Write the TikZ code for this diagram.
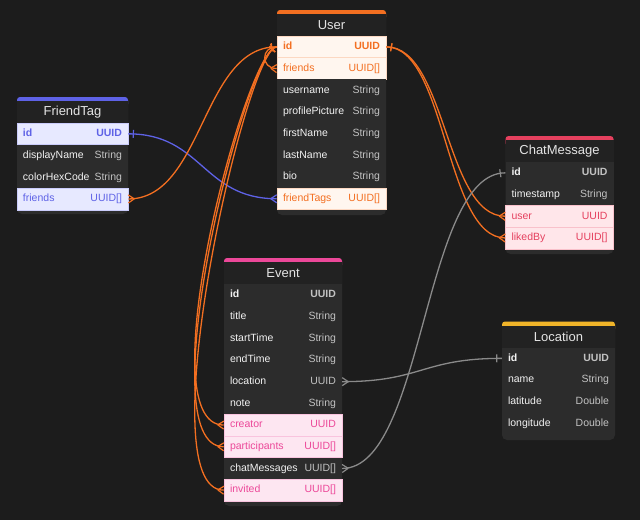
\documentclass[tikz,border=0pt]{standalone}
\usepackage{fontspec}
\setmainfont{Liberation Sans}
\usepackage{tikz}
\usetikzlibrary{decorations.markings}

\definecolor{canvas}{HTML}{1C1C1C}
\definecolor{headbg}{HTML}{222222}
\definecolor{rowbg}{HTML}{2C2C2C}
\definecolor{namefg}{HTML}{F2F2F2}
\definecolor{typefg}{HTML}{C2C2C2}
\definecolor{titlefg}{HTML}{E4E4E4}
\definecolor{userc}{HTML}{F36F21}
\definecolor{userbg}{HTML}{FFF6EF}
\definecolor{tagc}{HTML}{5E62E6}
\definecolor{tagbg}{HTML}{E7E9FF}
\definecolor{chatc}{HTML}{E5405E}
\definecolor{chatbg}{HTML}{FFE6EA}
\definecolor{eventc}{HTML}{EC4899}
\definecolor{eventbg}{HTML}{FDE6F1}
\definecolor{locc}{HTML}{F0B429}
\definecolor{linkgray}{HTML}{8A8A8A}

\newcommand{\ftype}[1]{\textcolor{typefg}{#1}}

\begin{document}
\begin{tikzpicture}[x=1pt, y=-1pt,
    title/.style={fill=headbg, text=titlefg, font=\fontsize{13}{15}\selectfont,
        minimum height=22pt, inner xsep=6pt, inner ysep=0pt, align=center},
    row/.style={fill=rowbg, text=namefg, font=\fontsize{10.5}{12}\selectfont,
        minimum height=21.7pt, inner xsep=6pt, inner ysep=0pt, align=left,
        text height=8pt, text depth=2.5pt},
    keyrow/.style={row, font=\fontsize{10.5}{12}\selectfont\bfseries},
    hlrow/.style={row, fill=#1bg, text=#1c, draw=#1c!22!#1bg, line width=0.6pt},
    rel/.style={draw=#1, line width=1.3pt},
    onemark/.style={postaction={decorate, decoration={markings,
        mark=at position 5pt with {\draw[#1, line width=1.2pt] (0pt,-4pt) -- (0pt,4pt);}}}},
    manymark/.style={postaction={decorate, decoration={markings,
        mark=at position -1pt with {\draw[#1, line width=1.2pt] (-5pt,0pt) -- (1pt,4pt) (-5pt,0pt) -- (1pt,-4pt);}}}}]

    \useasboundingbox (0,0) rectangle (640,520);
    \fill[canvas] (0,0) rectangle (640,520);

    % User
    \fill[rowbg, rounded corners=5pt] (277,10) rectangle (386,215);
    \fill[userc, rounded corners=3pt] (277,10) rectangle (386,20);
    \begin{scope}[every node/.append style={text width=97pt}]
        \node[title] (User) at (331.5,25) {User};
        \node[hlrow=user, font=\fontsize{10.5}{12}\selectfont\bfseries] (User-id) at (331.5,46.85) {id\hfill UUID};
        \node[hlrow=user] (User-friends) at (331.5,68.55) {friends\hfill UUID[]};
        \node[row] (User-username) at (331.5,90.25) {username\hfill\ftype{String}};
        \node[row] (User-profilePicture) at (331.5,111.95) {profilePicture\hfill\ftype{String}};
        \node[row] (User-firstName) at (331.5,133.65) {firstName\hfill\ftype{String}};
        \node[row] (User-lastName) at (331.5,155.35) {lastName\hfill\ftype{String}};
        \node[row] (User-bio) at (331.5,177.05) {bio\hfill\ftype{String}};
        \node[hlrow=user] (User-friendTags) at (331.5,198.75) {friendTags\hfill UUID[]};
    \end{scope}

    % FriendTag
    \fill[rowbg, rounded corners=5pt] (17,97) rectangle (128,214);
    \fill[tagc, rounded corners=3pt] (17,97) rectangle (128,107);
    \begin{scope}[every node/.append style={text width=99pt}]
        \node[title] (FriendTag) at (72.5,112) {FriendTag};
        \node[hlrow=tag, font=\fontsize{10.5}{12}\selectfont\bfseries] (FriendTag-id) at (72.5,133.85) {id\hfill UUID};
        \node[row] (FriendTag-displayName) at (72.5,155.55) {displayName\hfill\ftype{String}};
        \node[row] (FriendTag-colorHexCode) at (72.5,177.25) {colorHexCode\hfill\ftype{String}};
        \node[hlrow=tag] (FriendTag-friends) at (72.5,198.95) {friends\hfill UUID[]};
    \end{scope}

    % ChatMessage
    \fill[rowbg, rounded corners=5pt] (505.5,136) rectangle (613.5,254);
    \fill[chatc, rounded corners=3pt] (505.5,136) rectangle (613.5,146);
    \begin{scope}[every node/.append style={text width=96pt}]
        \node[title] (ChatMessage) at (559.5,151) {ChatMessage};
        \node[keyrow] (ChatMessage-id) at (559.5,172.85) {id\hfill\ftype{UUID}};
        \node[row] (ChatMessage-timestamp) at (559.5,194.55) {timestamp\hfill\ftype{String}};
        \node[hlrow=chat] (ChatMessage-user) at (559.5,216.25) {user\hfill UUID};
        \node[hlrow=chat] (ChatMessage-likedBy) at (559.5,237.95) {likedBy\hfill UUID[]};
    \end{scope}

    % Event
    \fill[rowbg, rounded corners=5pt] (224,258) rectangle (342,506);
    \fill[eventc, rounded corners=3pt] (224,258) rectangle (342,268);
    \begin{scope}[every node/.append style={text width=106pt}]
        \node[title] (Event) at (283,273) {Event};
        \node[keyrow] (Event-id) at (283,294.85) {id\hfill\ftype{UUID}};
        \node[row] (Event-title) at (283,316.55) {title\hfill\ftype{String}};
        \node[row] (Event-startTime) at (283,338.25) {startTime\hfill\ftype{String}};
        \node[row] (Event-endTime) at (283,359.95) {endTime\hfill\ftype{String}};
        \node[row] (Event-location) at (283,381.65) {location\hfill\ftype{UUID}};
        \node[row] (Event-note) at (283,403.35) {note\hfill\ftype{String}};
        \node[hlrow=event] (Event-creator) at (283,425.05) {creator\hfill UUID};
        \node[hlrow=event] (Event-participants) at (283,446.75) {participants\hfill UUID[]};
        \node[row] (Event-chatMessages) at (283,468.45) {chatMessages\hfill\ftype{UUID[]}};
        \node[hlrow=event] (Event-invited) at (283,490.15) {invited\hfill UUID[]};
    \end{scope}

    % Location
    \fill[rowbg, rounded corners=5pt] (502,321.5) rectangle (615,440);
    \fill[locc, rounded corners=3pt] (502,321.5) rectangle (615,331.5);
    \begin{scope}[every node/.append style={text width=101pt}]
        \node[title] (Location) at (558.5,336.5) {Location};
        \node[keyrow] (Location-id) at (558.5,358.35) {id\hfill\ftype{UUID}};
        \node[row] (Location-name) at (558.5,380.05) {name\hfill\ftype{String}};
        \node[row] (Location-latitude) at (558.5,401.75) {latitude\hfill\ftype{Double}};
        \node[row] (Location-longitude) at (558.5,423.45) {longitude\hfill\ftype{Double}};
    \end{scope}

    % relations
    \draw[rel=tagc, onemark=tagc, manymark=tagc] (FriendTag-id.east) .. controls +(74,0) and +(-74,0) .. (User-friendTags.west);
    \draw[rel=userc, onemark=userc, manymark=userc] (User-id.west) .. controls +(-75,0) and +(75,0) .. (FriendTag-friends.east);
    \draw[rel=userc, onemark=userc, manymark=userc] (User-id.west) .. controls +(-16,0) and +(-16,0) .. (User-friends.west);
    \draw[rel=userc, onemark=userc, manymark=userc] (User-id.west) .. controls +(-30,0) and +(-78,0) .. (Event-creator.west);
    \draw[rel=userc, onemark=userc, manymark=userc] (User-id.west) .. controls +(-30,0) and +(-78,0) .. (Event-participants.west);
    \draw[rel=userc, onemark=userc, manymark=userc] (User-id.west) .. controls +(-30,0) and +(-78,0) .. (Event-invited.west);
    \draw[rel=userc, onemark=userc, manymark=userc] (User-id.east) .. controls +(60,0) and +(-60,0) .. (ChatMessage-user.west);
    \draw[rel=userc, onemark=userc, manymark=userc] (User-id.east) .. controls +(60,0) and +(-60,0) .. (ChatMessage-likedBy.west);
    \draw[rel=linkgray, onemark=linkgray, manymark=linkgray] (ChatMessage-id.west) .. controls +(-82,0) and +(82,0) .. (Event-chatMessages.east);
    \draw[rel=linkgray, onemark=linkgray, manymark=linkgray] (Location-id.west) .. controls +(-80,0) and +(80,0) .. (Event-location.east);
\end{tikzpicture}
\end{document}
